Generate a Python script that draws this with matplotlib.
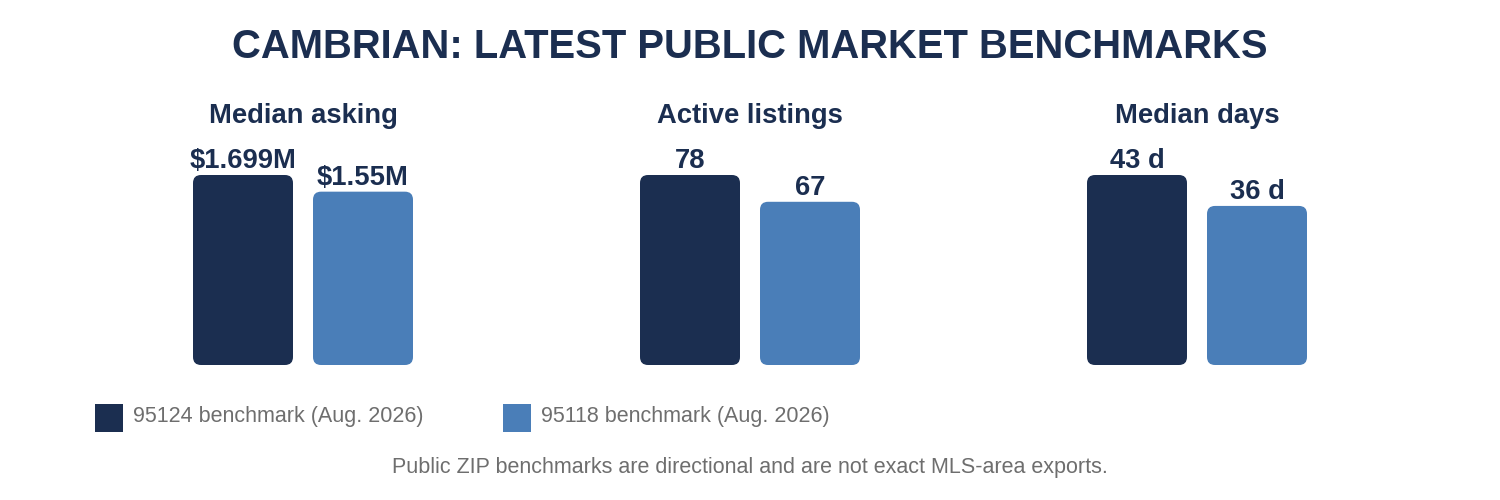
import matplotlib
matplotlib.use("Agg")
import matplotlib.pyplot as plt
from matplotlib.patches import FancyBboxPatch, Rectangle

# data
panel_titles = ["Median asking", "Active listings", "Median days"]
values_95124 = [1.699, 78, 43]
values_95118 = [1.55, 67, 36]
labels_95124 = ["$1.699M", "78", "43 d"]
labels_95118 = ["$1.55M", "67", "36 d"]
series_names = ["95124 benchmark (Aug. 2026)", "95118 benchmark (Aug. 2026)"]

NAVY = "#1b2e50"
BLUE = "#4a7eb8"
GRAY = "#6e6e6e"
W, H = 1500, 500

plt.rcParams['font.family'] = ['Liberation Sans', 'DejaVu Sans']

fig = plt.figure(figsize=(15, 5), dpi=100)

fig.text(0.5, 1 - 58 / H, "CAMBRIAN: LATEST PUBLIC MARKET BENCHMARKS",
         ha="center", va="baseline", fontsize=28.8, fontweight="bold", color=NAVY)

centers = [303, 750, 1197]
ax_w = 300       # px, 1 data unit = 100 px
ax_bottom = 365  # px from top
ax_top = 135
bar_px = 190     # height of tallest bar

for i, cx in enumerate(centers):
    ax = fig.add_axes([(cx - ax_w / 2) / W, 1 - ax_bottom / H,
                       ax_w / W, (ax_bottom - ax_top) / H])
    vmax = max(values_95124[i], values_95118[i])
    ytop = vmax * (ax_bottom - ax_top) / bar_px
    ax.set_xlim(-1.5, 1.5)
    ax.set_ylim(0, ytop)
    ax.axis("off")
    y_per_px = ytop / (ax_bottom - ax_top)
    x_per_px = 0.01
    for x, v, lab, col in [(-0.6, values_95124[i], labels_95124[i], NAVY),
                           (0.6, values_95118[i], labels_95118[i], BLUE)]:
        p = FancyBboxPatch((x - 0.5, 0), 1.0, v,
                           boxstyle="round,pad=0,rounding_size=0.08",
                           mutation_aspect=y_per_px / x_per_px,
                           facecolor=col, edgecolor="none")
        ax.add_patch(p)
        ax.annotate(lab, (x, v), xytext=(0, 5), textcoords="offset points",
                    ha="center", va="baseline", fontsize=19.7, fontweight="bold",
                    color=NAVY, annotation_clip=False)
    fig.text(cx / W, 1 - 123 / H, panel_titles[i], ha="center", va="baseline",
             fontsize=19.7, fontweight="bold", color=NAVY)

# legend
for x0, col, name in [(95, NAVY, series_names[0]), (503, BLUE, series_names[1])]:
    fig.patches.append(Rectangle((x0 / W, 1 - 432 / H), 28 / W, 28 / H,
                                 transform=fig.transFigure, facecolor=col,
                                 edgecolor="none"))
    fig.text((x0 + 38) / W, 1 - 422 / H, name, ha="left", va="baseline",
             fontsize=15.5, color=GRAY)

fig.text(0.5, 1 - 473 / H,
         "Public ZIP benchmarks are directional and are not exact MLS-area exports.",
         ha="center", va="baseline", fontsize=15.5, color=GRAY)

fig.savefig("out.png", dpi=100, facecolor="white")
